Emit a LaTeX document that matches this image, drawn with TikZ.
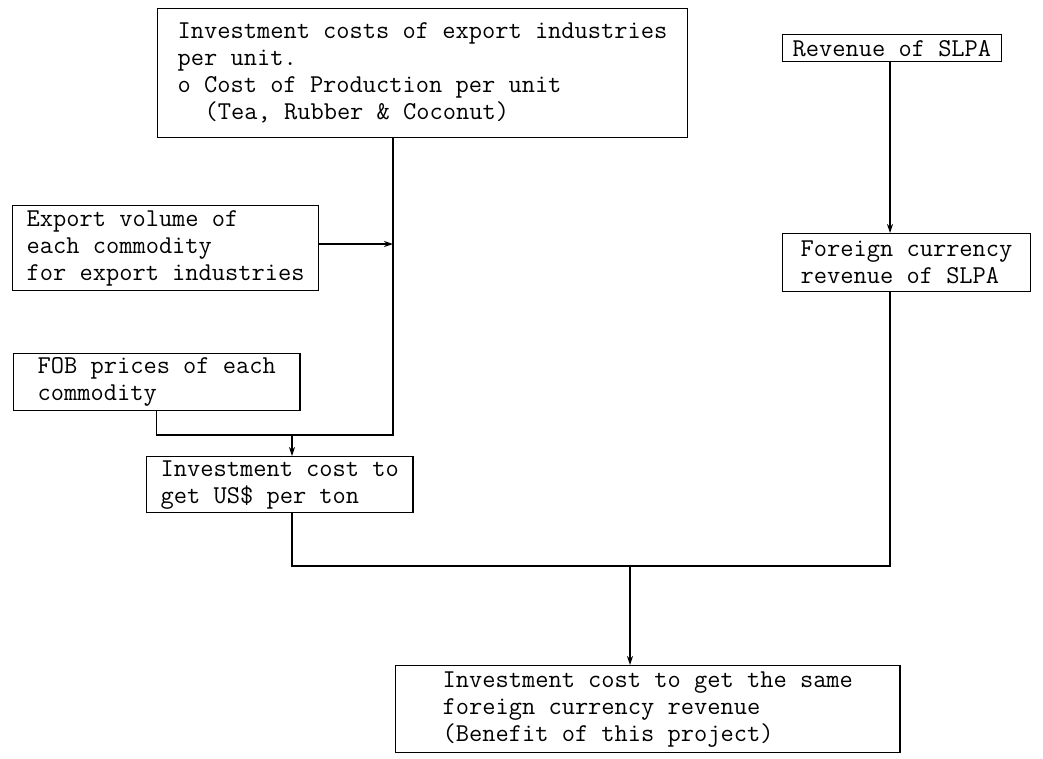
\documentclass[tikz,border=0pt]{standalone}
\usetikzlibrary{arrows.meta}

\begin{document}
\begin{tikzpicture}
    [x=1pt, y=-1pt, >={Stealth[length=9pt,width=6pt]}, line width=1.3pt,
      every node/.style={draw, rectangle, align=left, anchor=north west,
        inner ysep=2pt, font=\ttfamily\fontsize{25.7}{27}\selectfont}]

    \path[use as bounding box, fill=white] (0,0) rectangle (1043,758);

    \node (cost) [inner xsep=20pt, minimum height=129pt] at (157,8)
    {Investment costs of export industries\\
      per unit.\\
      o Cost of Production per unit\\
      \hspace*{27pt}(Tea, Rubber \& Coconut)
    };
    \node (rev) [inner xsep=10pt, inner ysep=0pt, minimum height=27pt]
    at (782,34) {Revenue of SLPA};
    \node (export) [inner xsep=14pt, minimum height=85pt] at (12,205)
    {Export volume of\\
      each commodity\\
      for export industries
    };
    \node (fcur) [inner xsep=18pt, minimum height=58pt] at (782,233)
    {Foreign currency\\
      revenue of SLPA
    };
    \node (fob) [inner xsep=24pt, minimum height=57pt] at (13,353)
    {FOB prices of each\\
      commodity
    };
    \node (usd) [inner xsep=14pt, minimum height=56pt] at (146,456)
    {Investment cost to\\
      get US\$ per ton
    };
    \node (same) [inner xsep=47pt, minimum height=87pt] at (395,665)
    {Investment cost to get the same\\
      foreign currency revenue\\
      (Benefit of this project)
    };

    \coordinate (vx) at (393,244);
    \coordinate (jn) at (292,435);
    \coordinate (mg) at (630,566);
    \coordinate (rx) at (890,566);

    \draw (cost.south -| vx) -- (vx |- jn) -- (jn);
    \draw[->] (export.east |- vx) -- (vx);
    \draw (fob.south) |- (jn);
    \draw[->] (jn) -- (usd.north -| jn);
    \draw[->] (rev.south -| rx) -- (fcur.north -| rx);
    \draw (fcur.south -| rx) -- (rx) -- (mg);
    \draw (usd.south -| jn) |- (mg);
    \draw[->] (mg) -- (same.north -| mg);
  \end{tikzpicture}
\end{document}
